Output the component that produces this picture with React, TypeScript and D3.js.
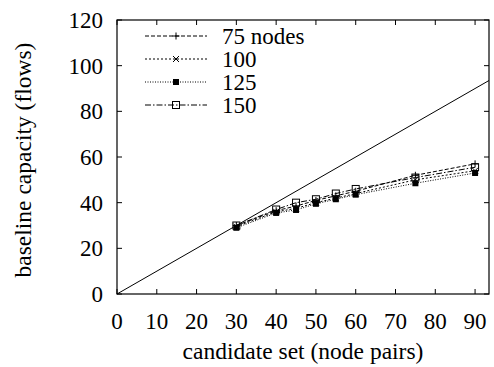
import React from 'react';
import * as d3 from 'd3';

// candidate set sizes (node pairs)
const candidates = [30, 40, 45, 50, 55, 60, 75, 90];

const seriesNames = ['75 nodes', '100', '125', '150'];
const nodes75 = [30, 36.5, 38.5, 41, 43, 45, 52, 57];
const nodes100 = [29.5, 36, 37.5, 40, 42, 44, 50, 54];
const nodes125 = [29, 35.5, 36.8, 39.5, 41.5, 43.5, 48.5, 53];
const nodes150 = [30, 37, 40, 41.5, 44, 46, 51, 55.5];

const xTicks = [0, 10, 20, 30, 40, 50, 60, 70, 80, 90];
const yTicks = [0, 20, 40, 60, 80, 100, 120];

const W = 494;
const H = 367;
const margin = { top: 20, right: 5, bottom: 73, left: 117 };
const font = '"Liberation Serif", "DejaVu Serif", serif';

const dashes = ['4,2', '2,2', '1,1.5', '6,2,1.5,2'];

function Marker({ kind, x, y }: { kind: number; x: number; y: number }) {
  const s = 3.5;
  if (kind === 0) {
    return (
      <path d={`M${x - s},${y}H${x + s}M${x},${y - s}V${y + s}`} stroke="#000" strokeWidth={1} />
    );
  }
  if (kind === 1) {
    return (
      <path
        d={`M${x - 3},${y - 3}L${x + 3},${y + 3}M${x - 3},${y + 3}L${x + 3},${y - 3}`}
        stroke="#000"
        strokeWidth={1}
      />
    );
  }
  if (kind === 2) {
    return <rect x={x - 3} y={y - 3} width={6} height={6} fill="#000" />;
  }
  return <rect x={x - 3.5} y={y - 3.5} width={7} height={7} fill="none" stroke="#000" strokeWidth={1} />;
}

export default function App() {
  const innerW = W - margin.left - margin.right;
  const innerH = H - margin.top - margin.bottom;

  const x = d3.scaleLinear().domain([0, 93.5]).range([0, innerW]);
  const y = d3.scaleLinear().domain([0, 120]).range([innerH, 0]);

  const allSeries = [nodes75, nodes100, nodes125, nodes150];
  const line = d3
    .line<number>()
    .x((_, i) => x(candidates[i]))
    .y((d) => y(d));

  const tick = 5;

  return (
    <svg width={W} height={H} style={{ position: 'absolute', left: 0, top: 0, background: '#fff' }}>
      <g transform={`translate(${margin.left},${margin.top})`}>
        {/* diagonal reference y = x */}
        <line x1={x(0)} y1={y(0)} x2={x(93.5)} y2={y(93.5)} stroke="#000" strokeWidth={1} />

        {allSeries.map((s, k) => (
          <g key={k}>
            <path d={line(s) || ''} fill="none" stroke="#000" strokeWidth={1} strokeDasharray={dashes[k]} />
            {s.map((v, i) => (
              <Marker key={i} kind={k} x={x(candidates[i])} y={y(v)} />
            ))}
          </g>
        ))}

        {/* frame */}
        <rect x={0} y={0} width={innerW} height={innerH} fill="none" stroke="#000" strokeWidth={1.2} />

        {xTicks.map((t) => (
          <g key={t}>
            <line x1={x(t)} x2={x(t)} y1={innerH} y2={innerH - tick} stroke="#000" />
            <line x1={x(t)} x2={x(t)} y1={0} y2={tick} stroke="#000" />
            <text
              x={x(t)}
              y={innerH + 35}
              textAnchor="middle"
              fontFamily={font}
              fontSize={23}
              fill="#000"
            >
              {t}
            </text>
          </g>
        ))}

        {yTicks.map((t) => (
          <g key={t}>
            <line x1={0} x2={tick} y1={y(t)} y2={y(t)} stroke="#000" />
            <line x1={innerW} x2={innerW - tick} y1={y(t)} y2={y(t)} stroke="#000" />
            <text
              x={-14}
              y={y(t) + 8}
              textAnchor="end"
              fontFamily={font}
              fontSize={23}
              fill="#000"
            >
              {t}
            </text>
          </g>
        ))}

        {/* legend */}
        {seriesNames.map((name, k) => {
          const ly = 16 + k * 23;
          return (
            <g key={name}>
              <line
                x1={28}
                x2={90}
                y1={ly}
                y2={ly}
                stroke="#000"
                strokeWidth={1}
                strokeDasharray={dashes[k]}
              />
              <Marker kind={k} x={59} y={ly} />
              <text x={105} y={ly + 8} fontFamily={font} fontSize={23} fill="#000">
                {name}
              </text>
            </g>
          );
        })}
      </g>

      <text
        x={margin.left + innerW / 2}
        y={H - 8}
        textAnchor="middle"
        fontFamily={font}
        fontSize={23.5}
        fill="#000"
      >
        candidate set (node pairs)
      </text>
      <text
        transform={`translate(31,160) rotate(-90)`}
        textAnchor="middle"
        fontFamily={font}
        fontSize={23.5}
        fill="#000"
      >
        baseline capacity (flows)
      </text>
    </svg>
  );
}
